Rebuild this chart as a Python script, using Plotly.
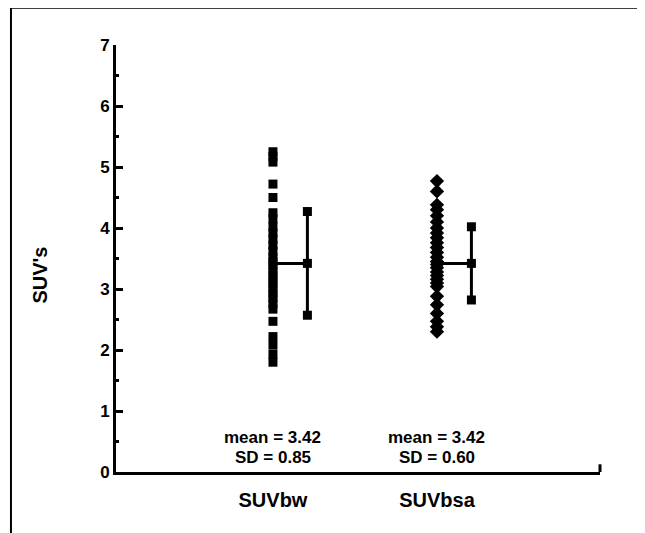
import plotly.graph_objects as go

groups = ["SUVbw", "SUVbsa"]
group_pos = [1, 2]
suvbw = [5.25, 5.17, 5.08, 4.72, 4.50, 4.25, 4.15, 4.02, 3.92, 3.82, 3.72, 3.62,
         3.52, 3.45, 3.38, 3.30, 3.22, 3.15, 3.08, 3.00, 2.92, 2.85, 2.76, 2.67,
         2.47, 2.22, 2.08, 1.93, 1.80]
suvbsa = [4.77, 4.60, 4.38, 4.30, 4.20, 4.10, 4.00, 3.92, 3.84, 3.76, 3.68, 3.60,
          3.52, 3.45, 3.40, 3.35, 3.28, 3.22, 3.16, 3.10, 3.04, 2.88, 2.74, 2.60,
          2.47, 2.38, 2.30]
means = [3.42, 3.42]
sds = [0.85, 0.60]
y_ticks = [0, 1, 2, 3, 4, 5, 6, 7]
y_title = "SUV's"

FONT = "Liberation Sans, Arial, sans-serif"
offset = 0.21

fig = go.Figure()
fig.add_trace(go.Scatter(x=[group_pos[0]] * len(suvbw), y=suvbw, mode="markers",
                         marker=dict(symbol="square", size=9, color="black"),
                         showlegend=False))
fig.add_trace(go.Scatter(x=[group_pos[1]] * len(suvbsa), y=suvbsa, mode="markers",
                         marker=dict(symbol="diamond", size=11, color="black"),
                         showlegend=False))

for g, m, s in zip(group_pos, means, sds):
    fig.add_trace(go.Scatter(x=[g, g + offset], y=[m, m], mode="lines",
                             line=dict(color="black", width=3), showlegend=False))
    fig.add_trace(go.Scatter(x=[g + offset] * 3, y=[m - s, m, m + s], mode="lines+markers",
                             line=dict(color="black", width=3),
                             marker=dict(symbol="square", size=9, color="black"),
                             showlegend=False))

for g, m, s in zip(group_pos, means, sds):
    fig.add_annotation(x=g, y=0.56, text=f"mean = {m:.2f}", showarrow=False,
                       font=dict(family=FONT, size=17, color="black", weight="bold"))
    fig.add_annotation(x=g, y=0.23, text=f"SD = {s:.2f}", showarrow=False,
                       font=dict(family=FONT, size=17, color="black", weight="bold"))

# y-axis title
fig.add_annotation(xref="paper", yref="paper", x=-0.157, y=0.46, text=y_title,
                   textangle=-90, showarrow=False, xanchor="center", yanchor="middle",
                   font=dict(family=FONT, size=20, color="black", weight="bold"))

# frame lines (top and left) of the scanned figure
fig.add_shape(type="line", xref="paper", yref="paper", x0=-0.217, x1=1.12, y0=1.087, y1=1.087,
              line=dict(color="black", width=2))
fig.add_shape(type="line", xref="paper", yref="paper", x0=-0.217, x1=-0.217, y0=1.087, y1=-0.2,
              line=dict(color="black", width=2))
# small upturned tick at right end of x axis
fig.add_shape(type="line", xref="paper", yref="paper", x0=1, x1=1, y0=0, y1=0.018,
              line=dict(color="black", width=3))

fig.update_layout(
    width=645, height=533,
    margin=dict(l=108, r=53, t=37, b=69),
    paper_bgcolor="white", plot_bgcolor="white",
    xaxis=dict(range=[0.043, 2.994], tickvals=group_pos, ticktext=groups,
               showline=True, linecolor="black", linewidth=3, ticks="",
               showgrid=False, zeroline=False, ticklabelstandoff=8,
               tickfont=dict(family=FONT, size=20, color="black", weight="bold")),
    yaxis=dict(range=[0, 7], tickvals=y_ticks, showline=True, linecolor="black",
               linewidth=3, ticks="inside", ticklen=7, tickwidth=3, tickcolor="black",
               minor=dict(dtick=0.5, ticks="inside", ticklen=3, tickwidth=3, tickcolor="black"),
               showgrid=False, zeroline=False,
               tickfont=dict(family=FONT, size=17, color="black", weight="bold")),
)

fig.write_html("out.html")
